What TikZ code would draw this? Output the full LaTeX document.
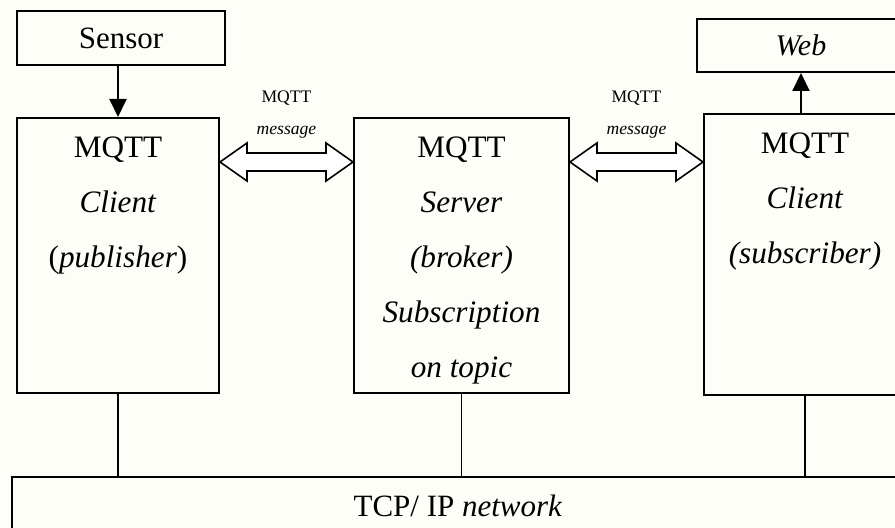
\documentclass[tikz,border=0pt]{standalone}
\usepackage{fontspec}
\setmainfont{Liberation Serif}
\usetikzlibrary{arrows.meta, positioning, calc}
\definecolor{paper}{RGB}{253,254,248}

\tikzset{
  box/.style={draw, line width=1pt, inner sep=0pt, anchor=north west},
  boxtext/.style={inner sep=0pt, align=center, font=\fontsize{15.6}{27.6}\selectfont},
  msgtext/.style={inner sep=0pt, align=center, font=\fontsize{8.8}{16}\selectfont},
  tap/.style={line width=0.8pt},
  push/.style={line width=1pt, -{Triangle[length=9pt, width=8.5pt]}},
  fat/.style={line width=0.8pt, fill=white},
}

\begin{document}
\begin{tikzpicture}[x=0.5pt, y=-0.5pt]
  \useasboundingbox (0,0) rectangle (895,528);
  \fill[paper] (0,0) rectangle (895,528);
  \clip (0,0) rectangle (895,528);

  % input and output
  \node[box, minimum width=104pt, minimum height=27pt, font=\fontsize{15.5}{18}\selectfont] (sensor) at (16,10) {Sensor};
  \node[box, minimum width=104pt, minimum height=26.5pt, font=\fontsize{15}{18}\selectfont\itshape] (web) at (696,18) {Web};

  % publisher, broker, subscriber
  \node[box, minimum width=101pt, minimum height=137.5pt] (pub) at (16,117) {};
  \node[box, minimum width=107.5pt, minimum height=137.5pt] (broker) at (353,117) {};
  \node[box, minimum width=101pt, minimum height=140.5pt] (sub) at (703,113) {};

  \node[boxtext, below=9.5pt of pub.north] (pubtext) {MQTT\\\textit{Client}\\(\textit{publisher})};
  \node[boxtext, below=9.5pt of broker.north] (brokertext) {MQTT\\\textit{Server}\\\textit{(broker)}\\\textit{Subscription}\\\textit{on topic}};
  \node[boxtext, below=9.5pt of sub.north] (subtext) {MQTT\\\textit{Client}\\\textit{(subscriber)}};

  % network bus
  \node[box, minimum width=446pt, minimum height=29pt, font=\fontsize{15.5}{18}\selectfont] (tcp) at (11,476) {TCP/ IP \textit{network}};

  \foreach \n in {pub, broker, sub}
    \draw[tap] (\n.south) -- (\n.south |- tcp.north);

  % sensor data in, results out
  \draw[push] (pub.north |- sensor.south) -- (pub.north);
  \draw[push] (web.south |- sub.north) -- (web.south);

  % message exchange
  \coordinate (msgrow) at (0,162);
  \foreach \a/\b in {pub/broker, broker/sub} {
    \draw[fat] (\a.east |- msgrow) coordinate (tipl) -- ++(27,-19) -- ++(0,10)
      -- ($(\b.west |- msgrow)+(-27,-9)$) -- ++(0,-10) -- (\b.west |- msgrow)
      -- ++(-27,19) -- ++(0,-10) -- ($(tipl)+(27,9)$) -- ++(0,10) -- cycle;
    \path ($(\a.east |- msgrow)!0.5!(\b.west |- msgrow)$) coordinate (mid);
    \node[msgtext] (msg-\a) at ($(mid)+(0,-47)$) {MQTT\\\textit{message}};
  }
\end{tikzpicture}
\end{document}
